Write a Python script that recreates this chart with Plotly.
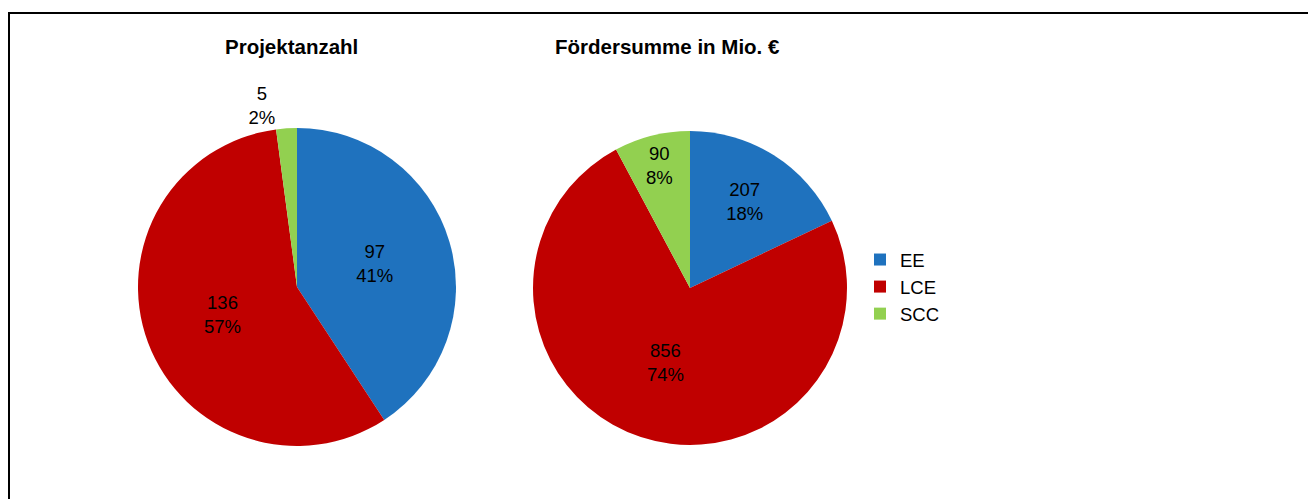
import plotly.graph_objects as go

categories = ["EE", "LCE", "SCC"]
projekt_values = [97, 136, 5]
foerder_values = [207, 856, 90]
titles = ["Projektanzahl", "Fördersumme in Mio. €"]
colors = ["#1F72BE", "#C00000", "#92D050"]

W, H = 1316, 499
OFF = 8  # page body margin offset
FONT = "Liberation Sans, Arial, sans-serif"


def px(x):
    return (x - OFF) / W


def py(y):
    return 1 - (y - OFF) / H


def dom_x(cx, r):
    return [px(cx - r), px(cx + r)]


def dom_y(cy, r):
    return [py(cy + r), py(cy - r)]


fig = go.Figure()
fig.add_trace(go.Pie(
    labels=categories, values=projekt_values, sort=False, direction="clockwise",
    rotation=0, marker=dict(colors=colors, line=dict(width=0)),
    texttemplate="%{value}<br>%{percent:.0%}",
    textposition=["inside", "inside", "outside"],
    insidetextorientation="horizontal",
    textfont=dict(family=FONT, size=18.5, color="black"),
    insidetextfont=dict(family=FONT, size=18.5, color="black"),
    outsidetextfont=dict(family=FONT, size=18.5, color="black"),
    domain=dict(x=dom_x(297, 159), y=dom_y(287, 159)),
    hoverinfo="label+value+percent", showlegend=True,
))
fig.add_trace(go.Pie(
    labels=categories, values=foerder_values, sort=False, direction="clockwise",
    rotation=0, marker=dict(colors=colors, line=dict(width=0)),
    texttemplate="%{value}<br>%{percent:.0%}",
    textposition="inside",
    insidetextorientation="horizontal",
    textfont=dict(family=FONT, size=18.5, color="black"),
    insidetextfont=dict(family=FONT, size=18.5, color="black"),
    domain=dict(x=dom_x(690, 157), y=dom_y(288, 157)),
    hoverinfo="label+value+percent", showlegend=False,
))

for t, x in zip(titles, [291, 667]):
    fig.add_annotation(text="<b>%s</b>" % t, x=px(x), y=py(47), xref="paper", yref="paper",
                       showarrow=False, xanchor="center", yanchor="middle",
                       font=dict(family=FONT, size=20.5, color="black"))

fig.add_shape(type="rect", xref="paper", yref="paper",
              x0=px(9), x1=px(1312), y0=-0.05, y1=py(13),
              line=dict(color="black", width=2), fillcolor="rgba(0,0,0,0)")

fig.update_layout(
    width=W, height=H, margin=dict(l=0, r=0, t=0, b=0),
    paper_bgcolor="white", plot_bgcolor="white",
    legend=dict(x=px(860), y=py(287), xanchor="left", yanchor="middle",
                font=dict(family=FONT, size=18.5, color="black"),
                bgcolor="rgba(0,0,0,0)", traceorder="normal"),
)

fig.write_html("out.html")
